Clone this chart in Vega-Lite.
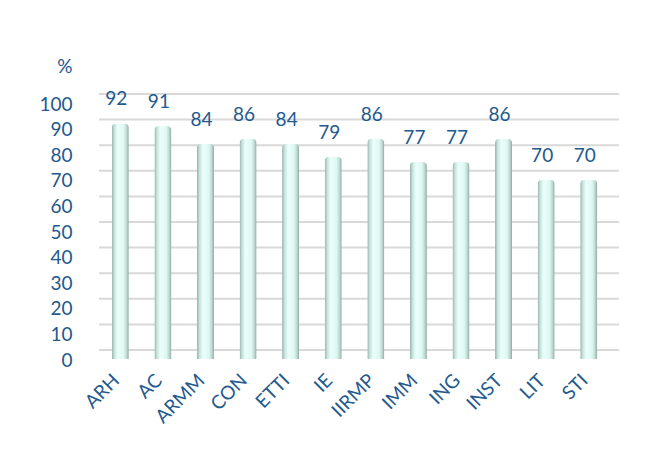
{
  "$schema": "https://vega.github.io/schema/vega-lite/v6.json",
  "width": 511,
  "height": 256,
  "autosize": {"type": "none"},
  "padding": {"left": 99, "top": 103, "right": 37, "bottom": 93},
  "background": "white",
  "config": {
    "view": {"stroke": null},
    "font": "Lato"
  },
  "datasets": {
    "scores": [
      {"program": "ARH", "pct": 92},
      {"program": "AC", "pct": 91},
      {"program": "ARMM", "pct": 84},
      {"program": "CON", "pct": 86},
      {"program": "ETTI", "pct": 84},
      {"program": "IE", "pct": 79},
      {"program": "IIRMP", "pct": 86},
      {"program": "IMM", "pct": 77},
      {"program": "ING", "pct": 77},
      {"program": "INST", "pct": 86},
      {"program": "LIT", "pct": 70},
      {"program": "STI", "pct": 70}
    ],
    "grid": [
      {"v": 0}, {"v": 10}, {"v": 20}, {"v": 30}, {"v": 40}, {"v": 50},
      {"v": 60}, {"v": 70}, {"v": 80}, {"v": 90}, {"v": 100}
    ]
  },
  "layer": [
    {
      "data": {"name": "grid"},
      "mark": {"type": "rule", "color": "#d9d9d9", "strokeWidth": 2, "xOffset": 9, "x2Offset": 7, "yOffset": -9},
      "encoding": {
        "y": {
          "field": "v",
          "type": "quantitative",
          "scale": {"domain": [0, 100], "nice": false},
          "axis": {
            "title": "%",
            "titleAngle": 0,
            "titleAlign": "right",
            "titleBaseline": "middle",
            "titleX": -27,
            "titleY": -37,
            "titleFontSize": 19,
            "titleFontWeight": "normal",
            "titleColor": "#22598e",
            "domain": false,
            "ticks": false,
            "grid": false,
            "tickCount": 11,
            "values": [0, 10, 20, 30, 40, 50, 60, 70, 80, 90, 100],
            "labelOverlap": false,
            "labelSeparation": 0,
            "labelBound": false,
            "labelPadding": 27,
            "labelOffset": 1,
            "labelFontSize": 19,
            "labelColor": "#22598e"
          }
        }
      }
    },
    {
      "data": {"name": "scores"},
      "mark": {
        "type": "bar",
        "cornerRadiusTopLeft": 4,
        "cornerRadiusTopRight": 4,
        "fill": {
          "gradient": "linear",
          "x1": 0, "y1": 0, "x2": 1, "y2": 0,
          "stops": [
            {"offset": 0, "color": "#93aea6"},
            {"offset": 0.14, "color": "#c4e2da"},
            {"offset": 0.35, "color": "#ebfffb"},
            {"offset": 0.7, "color": "#def8f2"},
            {"offset": 0.87, "color": "#bdd9d1"},
            {"offset": 1, "color": "#8ea8a0"}
          ]
        }
      },
      "encoding": {
        "x": {
          "field": "program",
          "type": "nominal",
          "sort": null,
          "scale": {"paddingInner": 0.6, "paddingOuter": 0.3},
          "axis": {
            "title": null,
            "domain": false,
            "ticks": false,
            "labelAngle": -45,
            "labelAlign": "right",
            "labelBaseline": "middle",
            "labelOverlap": false,
            "labelPadding": 18,
            "labelOffset": -4,
            "labelFontSize": 19,
            "labelColor": "#22598e"
          }
        },
        "y": {"field": "pct", "type": "quantitative"}
      }
    },
    {
      "data": {"name": "scores"},
      "mark": {"type": "text", "dy": -24, "dx": -4, "fontSize": 19, "color": "#22598e", "baseline": "middle"},
      "encoding": {
        "x": {"field": "program", "type": "nominal", "sort": null},
        "y": {"field": "pct", "type": "quantitative"},
        "text": {"field": "pct", "type": "quantitative"}
      }
    }
  ]
}
